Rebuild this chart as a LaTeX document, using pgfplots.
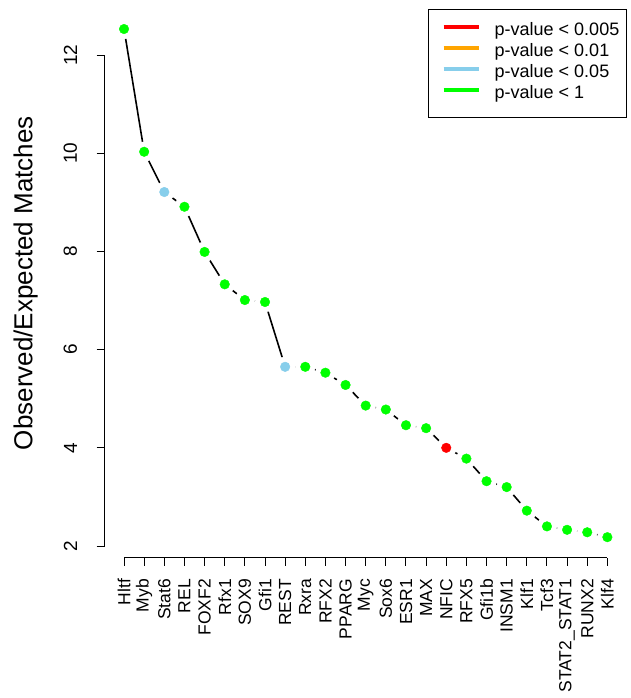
\documentclass[border=0pt]{standalone}
\usepackage{fontspec}
\setmainfont{Liberation Sans}
\usepackage{pgfplots}
\usepackage{pgfplotstable}
\pgfplotsset{compat=1.18}
\definecolor{pRed}{HTML}{FF0000}
\definecolor{pOrange}{HTML}{FFA500}
\definecolor{pBlue}{HTML}{87CEEB}
\definecolor{pGreen}{HTML}{00FF00}

% observed/expected ratio per motif, class = p-value bin
\pgfplotstableread{
idx ratio cls
0 12.53 g
1 10.03 g
2 9.21 b
3 8.91 g
4 7.99 g
5 7.33 g
6 7.01 g
7 6.97 g
8 5.65 b
9 5.65 g
10 5.53 g
11 5.28 g
12 4.86 g
13 4.78 g
14 4.46 g
15 4.40 g
16 4.00 r
17 3.78 g
18 3.32 g
19 3.20 g
20 2.72 g
21 2.40 g
22 2.33 g
23 2.28 g
24 2.18 g
}\motifs

\begin{document}
\begin{tikzpicture}
\begin{axis}[
    at={(0pt,0pt)}, anchor=south west,
    scale only axis,
    width=522pt, height=548.8pt,
    xmin=-0.96, xmax=24.96,
    ymin=1.766, ymax=12.944,
    axis x line*=bottom, axis y line*=left,
    axis line style={draw=none},
    tick align=outside,
    major tick length=8pt,
    tick style={black, line width=1pt},
    xtick={0,...,24},
    xticklabels={Hltf,Myb,Stat6,REL,FOXF2,Rfx1,SOX9,Gfi1,REST,Rxra,RFX2,PPARG,Myc,Sox6,ESR1,MAX,NFIC,RFX5,Gfi1b,INSM1,Klf1,Tcf3,STAT2\_STAT1,RUNX2,Klf4},
    ytick={2,4,...,12},
    /pgf/number format/assume math mode=true,
    xticklabel style={font=\fontsize{17.5}{17.5}\selectfont, yshift=-10pt, rotate=90, anchor=east},
    yticklabel style={font=\fontsize{19}{19}\selectfont, xshift=-16pt, rotate=90, anchor=south},
    ylabel={Observed/Expected Matches},
    every axis y label/.style={at={(axis description cs:0,0.5)}, xshift=-79pt, rotate=90, anchor=center, font=\fontsize{26}{26}\selectfont},
    clip=false,
    legend image code/.code={\path (0pt,0pt); \draw[#1, line width=4pt] (8pt,5pt) -- (43pt,5pt);},
    legend style={at={(rel axis cs:1,1)}, anchor=north east, draw=black, line width=0.8pt,
      font=\fontsize{18}{18}\selectfont, inner xsep=7pt, inner ysep=12pt, row sep=0pt,
      nodes={inner sep=0pt, text height=14.5pt, text depth=6.5pt},
      /tikz/every odd column/.append style={column sep=14pt}},
    legend cell align=left,
  ]
  \draw[line width=1pt] (axis cs:-0.96,2) -- (axis cs:-0.96,12);
  \draw[line width=1pt] (axis cs:0,1.766) -- (axis cs:24,1.766);
  \addplot[black, line width=1.6pt, forget plot] table[x=idx, y=ratio] {\motifs};
  % white discs cut the gaps round each point, as R's type="b" does
  \addplot[white, only marks, mark=*, mark size=10pt, forget plot]
    table[x=idx, y=ratio] {\motifs};
  \addplot[scatter, only marks, mark=*, mark size=4.8pt, scatter src=explicit symbolic, forget plot,
    scatter/classes={g={draw=pGreen, fill=pGreen}, b={draw=pBlue, fill=pBlue}, r={draw=pRed, fill=pRed}}]
    table[x=idx, y=ratio, meta=cls] {\motifs};
  \addlegendimage{pRed}
  \addlegendentry{p-value < 0.005}
  \addlegendimage{pOrange}
  \addlegendentry{p-value < 0.01}
  \addlegendimage{pBlue}
  \addlegendentry{p-value < 0.05}
  \addlegendimage{pGreen}
  \addlegendentry{p-value < 1}
\end{axis}
\pgfresetboundingbox
\path (-104.7pt,-140.5pt) rectangle (526.3pt,557.5pt);
\end{tikzpicture}
\end{document}
